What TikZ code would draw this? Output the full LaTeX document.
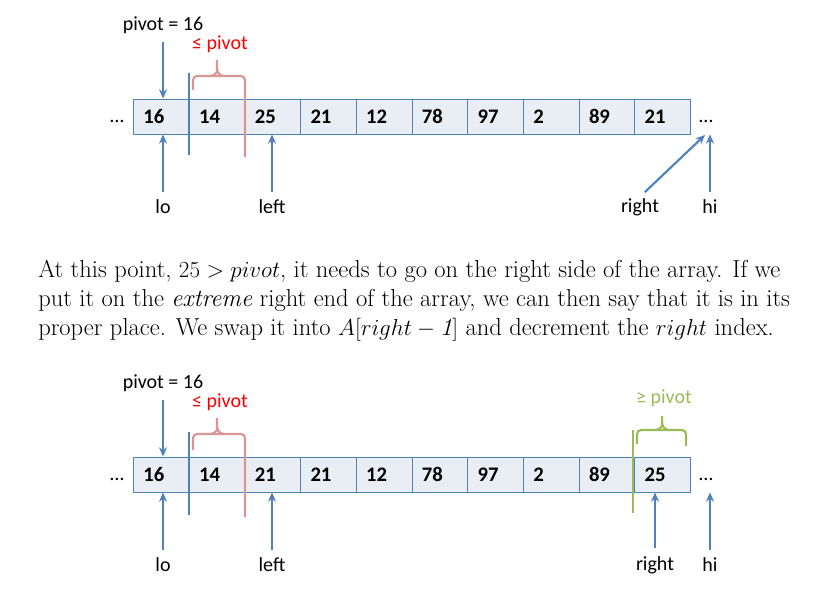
\documentclass[tikz,border=0pt]{standalone}
\usepackage{amsmath}
\usepackage{fontspec}
\newfontfamily\calfont{Carlito}
\usetikzlibrary{arrows.meta, positioning, calc}
\definecolor{mblue}{HTML}{4F81BD}
\definecolor{mcell}{HTML}{E9EDF4}
\definecolor{mpink}{HTML}{D99694}
\definecolor{mgreen}{HTML}{9BBB59}
\definecolor{mred}{HTML}{FF0000}
\tikzset{
  cell/.style={draw=mblue, fill=mcell, line width=0.6pt, anchor=west,
               minimum width=41.8pt, minimum height=26.25pt, text width=26.8pt,
               inner xsep=7.5pt, align=left, font=\calfont\fontsize{15.5}{18}\selectfont\bfseries},
  lbl/.style={font=\calfont\fontsize{15}{18}\selectfont, inner sep=1pt},
  arr/.style={-{Stealth[length=7pt,width=6pt]}, line width=1.6pt, mblue},
  uarr/.style={arr, shorten <=5pt},
  bline/.style={line width=1.6pt, mblue},
  rbrace/.style={line width=1.6pt, mpink, rounded corners=3pt},
  gbrace/.style={line width=1.6pt, mgreen, rounded corners=3pt},
  para/.style={align=left, inner sep=0pt, font=\fontsize{18.4}{21.75}\selectfont},
}
\begin{document}
\begin{tikzpicture}[x=0.75pt, y=-0.75pt]
  \useasboundingbox (0,0) rectangle (832,599);

  % before the swap
  \foreach \v [count=\i from 0] in {16,14,25,21,12,78,97,2,89,21}
    \node[cell] (t\i) at (133+55.7*\i,116.5) {\v};
  \node[lbl] (tdl) at (117,121) {\ldots};
  \node[lbl] (tdr) at (706,121) {\ldots};
  \node[lbl] (tpiv) at (163,25) {pivot = 16};
  \node[lbl, text=mred] (tle) at (220,44) {≤ pivot};
  \node[lbl] (tlo) at (163,207) {lo};
  \node[lbl] (tleft) at (272,207) {left};
  \node[lbl] (tright) at (640,207) {right};
  \node[lbl] (thi) at (710,207) {hi};
  \coordinate (trtip) at (705,135);
  \draw[arr, shorten <=5pt] (tpiv) -- (tpiv |- t0.north);
  \draw[uarr] (tlo) -- (tlo |- t0.south);
  \draw[uarr] (tleft) -- (tleft |- t2.south);
  \draw[uarr] (tright.north) -- (trtip);
  \draw[uarr] (thi) -- (thi |- t9.south);
  \draw[bline] (189,73) -- (189,155);
  \draw[rbrace] (193,90) -- (193,76) -- (245,76) -- (245,157);
  \draw[rbrace] (210,76) to[out=0,in=-90] (217,68) -- (217,60)
    (217,68) to[out=-90,in=180] (224,76);

  % the text
  \node[para, anchor=north west] (txt) at (38,260)
    {At this point, $25 > pivot$, it needs to go on the right side of the array. If we\\
     put it on the \emph{extreme} right end of the array, we can then say that it is in its\\
     proper place. We swap it into $A[right - \mathit{1}]$ and decrement the $right$ index.};

  % after the swap
  \foreach \v [count=\i from 0] in {16,14,21,21,12,78,97,2,89,25}
    \node[cell] (b\i) at (133+55.7*\i,474.5) {\v};
  \node[lbl] (bdl) at (117,479) {\ldots};
  \node[lbl] (bdr) at (706,479) {\ldots};
  \node[lbl] (bpiv) at (163,383) {pivot = 16};
  \node[lbl, text=mred] (ble) at (220,402) {≤ pivot};
  \node[lbl, text=mgreen] (bge) at (664,398) {≥ pivot};
  \node[lbl] (blo) at (163,565) {lo};
  \node[lbl] (bleft) at (272,565) {left};
  \node[lbl] (bright) at (655,565) {right};
  \node[lbl] (bhi) at (710,565) {hi};
  \draw[arr, shorten <=5pt] (bpiv) -- (bpiv |- b0.north);
  \draw[uarr] (blo) -- (blo |- b0.south);
  \draw[uarr] (bleft) -- (bleft |- b2.south);
  \draw[uarr] (bright) -- (bright |- b9.south);
  \draw[uarr] (bhi) -- (bhi |- b9.south);
  \draw[bline] (189,432) -- (189,515);
  \draw[rbrace] (193,450) -- (193,434) -- (245,434) -- (245,517);
  \draw[rbrace] (210,434) to[out=0,in=-90] (217,426) -- (217,418)
    (217,426) to[out=-90,in=180] (224,434);
  \draw[gbrace] (633,430) -- (633,513);
  \draw[gbrace] (637,444) -- (637,430) -- (686,430) -- (686,446);
  \draw[gbrace] (655,430) to[out=0,in=-90] (662,422) -- (662,416)
    (662,422) to[out=-90,in=180] (669,430);
\end{tikzpicture}
\end{document}
